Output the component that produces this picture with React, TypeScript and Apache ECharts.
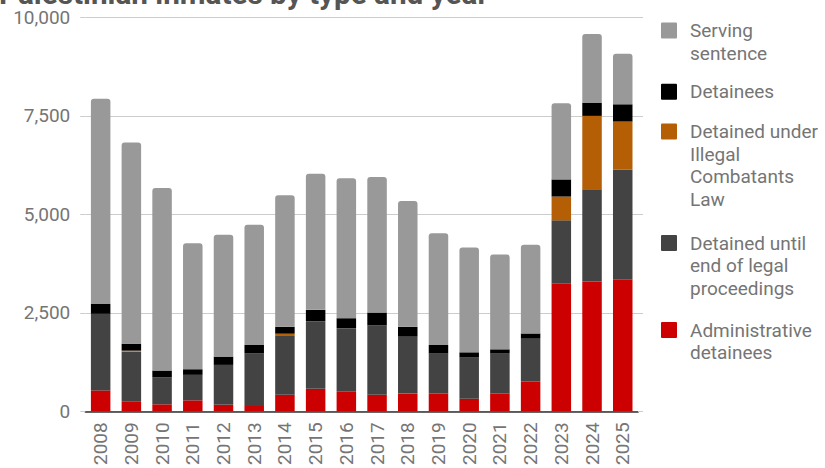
import React, { useEffect, useRef } from "react";
import * as echarts from "echarts";

const years = ["2008","2009","2010","2011","2012","2013","2014","2015","2016","2017","2018","2019","2020","2021","2022","2023","2024","2025"];
const administrative = [530, 243, 177, 278, 168, 134, 420, 571, 495, 420, 455, 455, 318, 455, 747, 3237, 3295, 3338];
const untilEnd = [1945, 1272, 682, 647, 1010, 1331, 1514, 1717, 1616, 1759, 1439, 1010, 1046, 1010, 1112, 1612, 2342, 2795];
const illegalCombatants = [0, 25, 0, 0, 0, 0, 36, 0, 0, 0, 0, 0, 0, 0, 0, 604, 1864, 1225];
const detainees = [252, 177, 176, 143, 211, 218, 176, 288, 253, 329, 252, 218, 133, 108, 118, 436, 328, 438];
const serving = [5210, 5111, 4637, 3200, 3096, 3055, 3342, 3459, 3553, 3442, 3197, 2837, 2660, 2407, 2255, 1932, 1755, 1285];

const titleText = "Palestinian inmates by type and year";

const seriesDefs = [
  { name: "Administrative detainees", label: "Administrative\ndetainees", data: administrative, color: "#cc0000" },
  { name: "Detained until end of legal proceedings", label: "Detained until\nend of legal\nproceedings", data: untilEnd, color: "#434343" },
  { name: "Detained under Illegal Combatants Law", label: "Detained under\nIllegal\nCombatants\nLaw", data: illegalCombatants, color: "#b45f06" },
  { name: "Detainees", label: "Detainees", data: detainees, color: "#000000" },
  { name: "Serving sentence", label: "Serving\nsentence", data: serving, color: "#999999" },
];

// legend order (top to bottom) and first-line centres
const legendOrder = [4, 3, 2, 1, 0];
const legendCenters = [30.5, 91.8, 131.5, 243, 330];

export default function App() {
  const ref = useRef<HTMLDivElement>(null);
  useEffect(() => {
    if (!ref.current) return;
    const chart = echarts.init(ref.current, null, { renderer: "svg" });
    const font = "Roboto";
    const gray = "#757575";
    const lh = 22.7;
    const legendGraphics: any[] = [];
    legendOrder.forEach((idx, i) => {
      const s = seriesDefs[idx];
      const c = legendCenters[i];
      legendGraphics.push({
        type: "rect",
        shape: { x: 661, y: c - 8, width: 16, height: 16, r: 1 },
        style: { fill: s.color },
      });
      legendGraphics.push({
        type: "text",
        x: 690,
        y: c - lh / 2,
        style: {
          text: s.label,
          fontFamily: font,
          fontSize: 19,
          lineHeight: lh,
          fill: gray,
          verticalAlign: "top",
          align: "left",
        },
      });
    });

    const option: any = {
      animation: false,
      title: {
        text: titleText,
        left: -1,
        top: -22,
        padding: 0,
        textStyle: { fontFamily: font, fontSize: 29.7, fontWeight: "bold", color: "#555555" },
      },
      grid: { left: 85.3, right: 186.9, top: 17.5, bottom: 54.5, containLabel: false },
      xAxis: {
        type: "category",
        data: years,
        axisLine: { show: true, lineStyle: { color: "#333333", width: 1.5 } },
        axisTick: { show: false },
        axisLabel: { rotate: 90, margin: 11, color: gray, fontFamily: font, fontSize: 19 },
      },
      yAxis: [
        {
          type: "value",
          min: 0,
          max: 10000,
          interval: 2500,
          axisLine: { show: false },
          axisTick: { show: true, length: 5, lineStyle: { color: "#cccccc" } },
          splitLine: { lineStyle: { color: "#cccccc" } },
          axisLabel: {
            margin: 15,
            color: gray,
            fontFamily: font,
            fontSize: 19,
            formatter: (v: number) => v.toLocaleString("en-US"),
          },
        },
        {
          type: "value",
          position: "right",
          min: 0,
          max: 10000,
          interval: 2500,
          axisLine: { show: false },
          axisTick: { show: true, length: 5, lineStyle: { color: "#cccccc" } },
          splitLine: { show: false },
          axisLabel: { show: false },
        },
      ],
      series: seriesDefs.map((s, i) => ({
        name: s.name,
        type: "bar",
        stack: "total",
        barWidth: 19.5,
        data: s.data,
        itemStyle: {
          color: s.color,
          borderRadius: i === seriesDefs.length - 1 ? [3, 3, 0, 0] : 0,
        },
      })),
      graphic: legendGraphics,
    };
    chart.setOption(option);
    return () => chart.dispose();
  }, []);
  return (
    <div
      ref={ref}
      style={{ position: "fixed", left: 0, top: 0, width: 825, height: 468, background: "#ffffff" }}
    />
  );
}
